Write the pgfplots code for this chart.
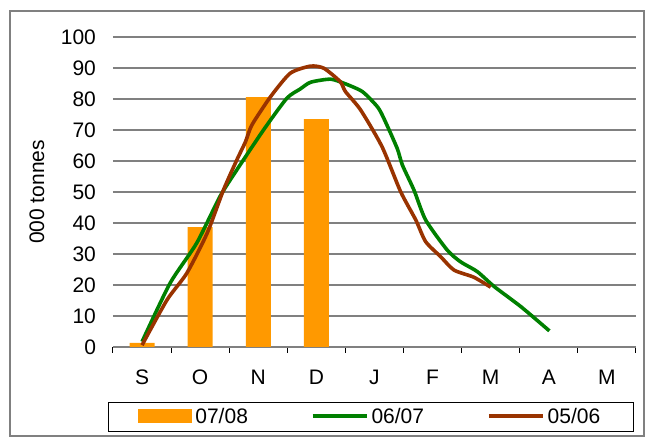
\documentclass[border=0pt]{standalone}
\usepackage{fontspec}
\setmainfont{Liberation Sans}
\usepackage{pgfplots}
\pgfplotsset{compat=1.18}

\definecolor{barorange}{RGB}{255,153,0}
\definecolor{linegreen}{RGB}{0,128,0}
\definecolor{linebrown}{RGB}{153,51,0}
\definecolor{gridgray}{RGB}{128,128,128}

\begin{document}
\begin{tikzpicture}[font=\fontsize{10.5}{12.6}\selectfont]
  % page size and outer frame
  \path (0pt,0pt) rectangle (322.5pt,218.5pt);
  \draw[gridgray, line width=0.75pt] (5pt,0.5pt) rectangle (322pt,213pt);
  \begin{axis}[
      at={(56.5pt,45pt)}, anchor=south west,
      scale only axis,
      width=261.5pt, height=155pt,
      xmin=-0.5, xmax=8.5,
      ymin=0, ymax=100,
      axis lines*=left,
      x axis line style={gridgray, line width=0.75pt, -},
      y axis line style={draw=none},
      xtick={0,...,8},
      xticklabels={S,O,N,D,J,F,M,A,M},
      minor xtick={-0.5,0.5,...,8.5},
      ytick={0,10,...,100},
      major tick length=0pt,
      minor tick length=3pt,
      tick align=outside,
      minor tick style={black, line width=0.5pt},
      xticklabel style={yshift=-8pt},
      yticklabel style={xshift=-5pt},
      /pgf/number format/assume math mode=true,
      ymajorgrids,
      grid style={gridgray, line width=0.75pt},
      ylabel={000 tonnes},
      every axis y label/.style={at={(axis description cs:-0.1453,0.5)}, rotate=90, anchor=center},
      legend columns=3,
      legend style={at={(axis description cs:0.493,-0.226)}, anchor=center,
        draw=black, line width=0.6pt, inner xsep=15pt, inner ysep=0.8pt,
        nodes={inner xsep=1.5pt},
        /tikz/every even column/.append style={column sep=30pt}},
    ]
    \addplot[ybar, bar width=12.5pt, bar shift=0pt, fill=barorange, draw=none,
      legend image code/.code={\fill[barorange] (0pt,-0.32em) rectangle (27pt,0.4em);}]
      coordinates {(0,1.3) (1,38.7) (2,80.6) (3,73.5)};
    \addlegendentry{07/08}
    \addplot[linegreen, line width=1.8pt, smooth, tension=0.4,
      legend image code/.code={\draw[linegreen, line width=1.8pt] (0pt,0.04em) -- (27pt,0.04em);}]
      coordinates {
        (0,1.7) (0.48,20.5) (0.94,33.5) (1.34,48.5) (1.63,57.1) (2.09,70.0)
        (2.49,80.2) (2.72,83.2) (2.90,85.4) (3.24,86.4) (3.47,85.1) (3.79,82.4)
        (4.05,77.5) (4.16,73.8) (4.39,64.1) (4.48,58.7) (4.68,50.6) (4.88,41.0)
        (5.25,31.3) (5.48,27.5) (5.77,24.3) (6.06,19.5) (6.52,13.0) (7.01,5.2)
      };
    \addlegendentry{06/07}
    \addplot[linebrown, line width=1.8pt, smooth, tension=0.4,
      legend image code/.code={\draw[linebrown, line width=1.8pt] (0pt,0.04em) -- (27pt,0.04em);}]
      coordinates {
        (0,0.6) (0.43,15.2) (0.77,23.8) (1.12,36.7) (1.40,50.6) (1.63,60.3)
        (1.78,66.2) (1.89,71.6) (2.21,80.7) (2.55,88.3) (2.90,90.6) (3.13,89.9)
        (3.41,85.6) (3.50,82.4) (3.76,76.5) (4.13,64.6) (4.45,50.1) (4.71,41.0)
        (4.88,34.0) (5.14,29.1) (5.37,24.8) (5.71,22.5) (6.0,19.3)
      };
    \addlegendentry{05/06}
  \end{axis}
\end{tikzpicture}
\end{document}
